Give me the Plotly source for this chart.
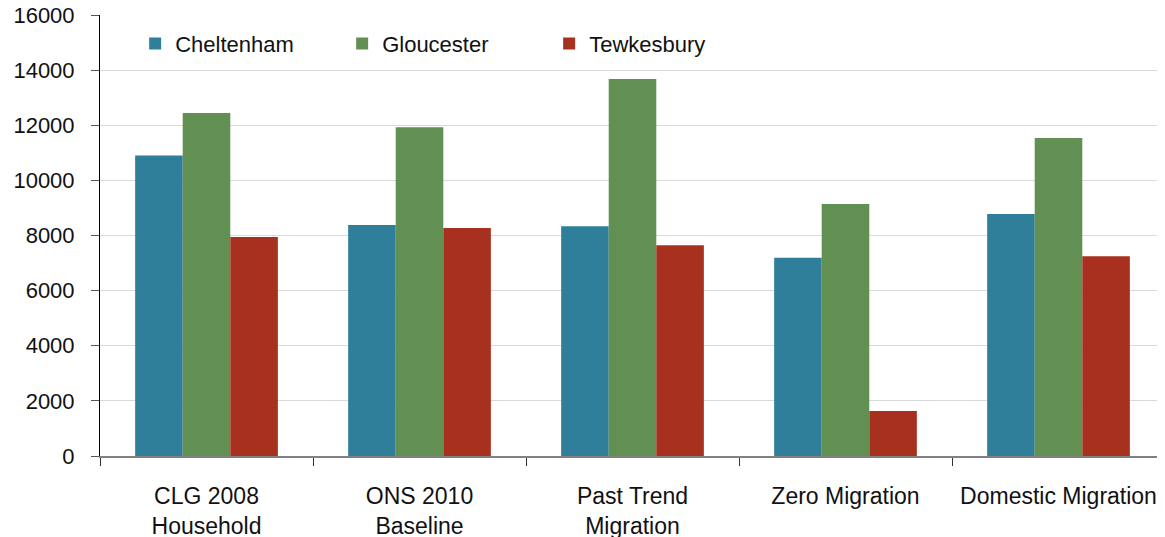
import plotly.graph_objects as go

categories = ["CLG 2008<br>Household", "ONS 2010<br>Baseline", "Past Trend<br>Migration",
              "Zero Migration", "Domestic Migration"]
cheltenham = [10900, 8380, 8340, 7190, 8780]
gloucester = [12440, 11930, 13680, 9140, 11540]
tewkesbury = [7950, 8270, 7650, 1630, 7250]
series_names = ["Cheltenham", "Gloucester", "Tewkesbury"]
colors = ["#2F7F9B", "#628F52", "#A8301F"]
y_ticks = [0, 2000, 4000, 6000, 8000, 10000, 12000, 14000, 16000]

fig = go.Figure()
for name, vals, col in zip(series_names, [cheltenham, gloucester, tewkesbury], colors):
    fig.add_trace(go.Bar(x=categories, y=vals, name=name, marker=dict(color=col, line=dict(width=0))))

font_family = "Liberation Sans, Arial, sans-serif"
fig.update_layout(
    width=1165, height=537,
    margin=dict(l=92, r=8, t=7, b=89, autoexpand=False),
    paper_bgcolor="white", plot_bgcolor="white",
    barmode="group", bargap=0.33, bargroupgap=0,
    font=dict(family=font_family, size=22, color="#111111"),
    showlegend=True,
    legend=dict(orientation="h", x=0.033, y=0.935, xanchor="left", yanchor="middle",
                font=dict(size=22), entrywidth=162, entrywidthmode="pixels",
                bgcolor="rgba(0,0,0,0)"),
    xaxis=dict(showline=True, linecolor="#808080", linewidth=2, ticks="outside",
               tickson="boundaries", ticklen=8, tickcolor="#333333", automargin=False,
               showgrid=False, tickfont=dict(size=23), ticklabelstandoff=18),
    yaxis=dict(range=[0, 16000], tickvals=y_ticks, tickformat="d", showline=True,
               linecolor="#000000", linewidth=1, ticks="outside", ticklen=8,
               tickcolor="#555555", showgrid=True, gridcolor="#D9D9D9", gridwidth=1,
               zeroline=False, tickfont=dict(size=22), ticklabelstandoff=12,
               automargin=False, ticklabeloverflow="allow"),
)
fig.write_html("out.html")
